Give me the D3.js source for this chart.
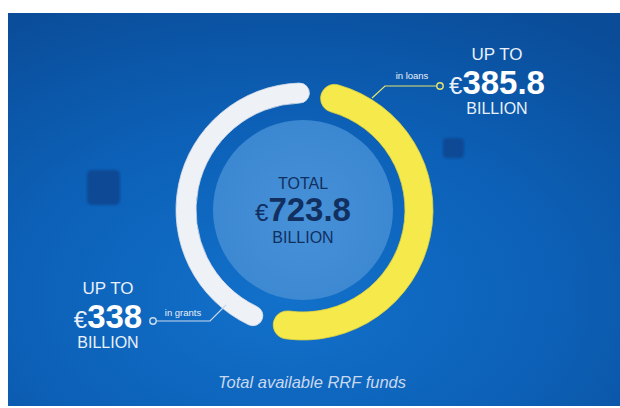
<!DOCTYPE html>
<html><head><meta charset="utf-8">
<script src="https://cdn.jsdelivr.net/npm/d3@7"></script>
<style>html,body{margin:0;padding:0;background:#fff;} svg{display:block}</style>
</head><body><svg id="c" width="620" height="408"></svg>
<script>
// ---- data ----
const segments = ["in loans", "in grants"];
const values = [385.8, 338];
const totalLabel = "TOTAL";
const totalValue = 723.8;
const prefixLabel = "UP TO";
const unitLabel = "BILLION";
const caption = "Total available RRF funds";

// ---- layout / style ----
const W = 620, H = 408;
const cx = 303, cy = 210;
const colors = ["#f6e94c", "#eef1f6"];
const radii = [[102, 130], [107, 127]];
const font = "'Liberation Sans', Arial, Helvetica, sans-serif";
const deg = Math.PI / 180;

const svg = d3.select("#c");
const defs = svg.append("defs");

const bg = defs.append("radialGradient").attr("id", "bg")
  .attr("cx", "45%").attr("cy", "72%").attr("r", "85%");
bg.append("stop").attr("offset", "0%").attr("stop-color", "#1271cb");
bg.append("stop").attr("offset", "55%").attr("stop-color", "#0c5fb5");
bg.append("stop").attr("offset", "100%").attr("stop-color", "#0a4c98");

const inner = defs.append("radialGradient").attr("id", "inner")
  .attr("cx", "50%").attr("cy", "55%").attr("r", "60%");
inner.append("stop").attr("offset", "0%").attr("stop-color", "#4791d8");
inner.append("stop").attr("offset", "100%").attr("stop-color", "#3a86d0");

const blur = defs.append("filter").attr("id", "blur").attr("x", "-50%").attr("y", "-50%").attr("width", "200%").attr("height", "200%");
blur.append("feGaussianBlur").attr("stdDeviation", 1.1);

svg.append("rect").attr("x", 8).attr("y", 13).attr("width", W - 8).attr("height", 393)
  .attr("fill", "url(#bg)");

// decorative squares
svg.append("rect").attr("x", 87).attr("y", 170).attr("width", 33).attr("height", 35).attr("rx", 5)
  .attr("fill", "#0a4a94").attr("filter", "url(#blur)");
svg.append("rect").attr("x", 443).attr("y", 138).attr("width", 21).attr("height", 20).attr("rx", 4)
  .attr("fill", "#0a4a94").attr("filter", "url(#blur)");

// inner circle
svg.append("circle").attr("cx", cx).attr("cy", cy).attr("r", 90).attr("fill", "url(#inner)");

// ring
const pie = d3.pie().sort(null).value(d => d)
  .startAngle(6 * deg).endAngle(6 * deg + 2 * Math.PI).padAngle(4 * deg);
const arcs = pie(values);
const g = svg.append("g").attr("transform", `translate(${cx},${cy})`);
arcs.forEach((a, i) => {
  const [ri, ro] = radii[i];
  const arc = d3.arc().innerRadius(ri).outerRadius(ro).cornerRadius((ro - ri) / 2);
  g.append("path").attr("d", arc(a)).attr("fill", colors[i])
    .attr("stroke", i === 0 ? "#e3d43a" : "#d9dee8").attr("stroke-width", 0.8);
});

// center text
const ct = svg.append("g").attr("fill", "#112f5f").attr("font-family", font).attr("text-anchor", "middle");
ct.append("text").attr("x", cx).attr("y", 189).attr("font-size", 16).text(totalLabel);
const tv = ct.append("text").attr("x", cx).attr("y", 221);
tv.append("tspan").attr("font-size", 24).text("€");
tv.append("tspan").attr("font-size", 33).attr("font-weight", "bold").text(d3.format(".1f")(totalValue));
ct.append("text").attr("x", cx).attr("y", 243).attr("font-size", 16).text(unitLabel);

// side labels
const labelPos = [
  {x: 497, y: 60, fmt: ".1f", line: [[372, 98], [385, 86], [437, 86]], dot: [440, 86], tag: [412, 79], col: "#e6e46a"},
  {x: 108, y: 294, fmt: "d", line: [[226, 305], [210, 321], [156, 321]], dot: [153, 321], tag: [183, 316], col: "#c9d9ef"}
];
segments.forEach((s, i) => {
  const p = labelPos[i];
  const lg = svg.append("g").attr("font-family", font).attr("fill", "#e9f0fa").attr("text-anchor", "middle");
  lg.append("text").attr("x", p.x).attr("y", p.y).attr("font-size", 17).text(prefixLabel);
  const vt = lg.append("text").attr("x", p.x).attr("y", p.y + 34);
  vt.append("tspan").attr("font-size", 24).text("€");
  vt.append("tspan").attr("font-size", 33).attr("font-weight", "bold").attr("fill", "#ffffff").text(d3.format(p.fmt)(values[i]));
  lg.append("text").attr("x", p.x).attr("y", p.y + 54).attr("font-size", 16).text(unitLabel);

  svg.append("path").attr("d", d3.line()(p.line)).attr("fill", "none")
    .attr("stroke", p.col).attr("stroke-width", 1.2);
  svg.append("circle").attr("cx", p.dot[0]).attr("cy", p.dot[1]).attr("r", 3.2)
    .attr("fill", "none").attr("stroke", p.col).attr("stroke-width", 1.4);
  svg.append("text").attr("x", p.tag[0]).attr("y", p.tag[1]).attr("font-family", font)
    .attr("font-size", 9.5).attr("fill", "#e9f0fa").attr("text-anchor", "middle").text(s);
});

// caption
svg.append("text").attr("x", 312).attr("y", 388).attr("font-family", font).attr("font-size", 16.5)
  .attr("font-style", "italic").attr("fill", "#c9d8ee").attr("text-anchor", "middle").text(caption);
</script></body></html>
